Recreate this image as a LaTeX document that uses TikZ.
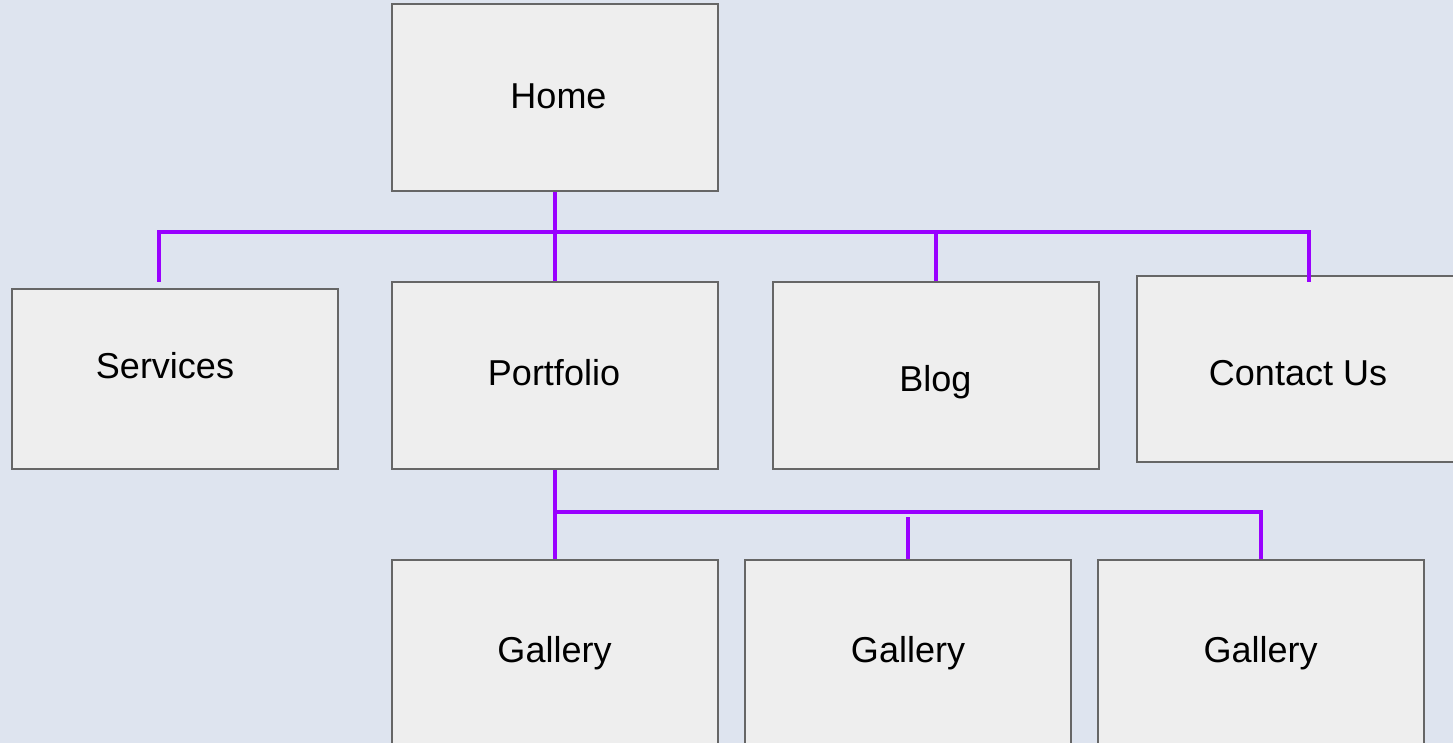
\documentclass[tikz,border=0pt]{standalone}
\usepackage{fontspec}
\setmainfont{Liberation Sans}
\definecolor{bg}{RGB}{222,228,239}
\definecolor{boxfill}{RGB}{238,238,238}
\definecolor{boxline}{RGB}{102,102,102}
\definecolor{purp}{RGB}{153,0,255}
\begin{document}
\begin{tikzpicture}[x=1pt,y=-1pt,
  pagebox/.style={draw=boxline, fill=boxfill, line width=2pt, inner sep=0pt,
    minimum width=326pt, minimum height=187pt},
  txt/.style={inner sep=0pt, anchor=base, font=\fontsize{36}{43}\selectfont},
  link/.style={draw=purp, line width=4pt, line join=miter}]
\useasboundingbox (0,0) rectangle (1453,743);
\clip (0,0) rectangle (1453,743);
\fill[bg] (0,0) rectangle (1453,743);
% boxes
\node[pagebox] (home) at (555,97.5) {};
\node[pagebox, minimum height=180pt] (services) at (174.5,379) {};
\node[pagebox] (portfolio) at (555,375.5) {};
\node[pagebox] (blog) at (935.5,375.5) {};
\node[pagebox, minimum height=186pt] (contact) at (1299.5,369) {};
\node[pagebox] (gal1) at (555,653.5) {};
\node[pagebox] (gal2) at (908,653.5) {};
\node[pagebox] (gal3) at (1261,653.5) {};
% texts
\node[txt] (homeT) at (558.5,108.3) {Home};
\node[txt] (servicesT) at (165,378.3) {Services};
\node[txt] (portfolioT) at (554,385.7) {Portfolio};
\node[txt] (blogT) at (935.3,391) {Blog};
\node[txt] (contactT) at (1298,385) {Contact Us};
\node[txt] (gal1T) at (554.5,662.7) {Gallery};
\node[txt] (gal2T) at (908,662.7) {Gallery};
\node[txt] (gal3T) at (1260.5,662.7) {Gallery};
% connector coordinates
\coordinate (busL) at (159,232);
\coordinate (busR) at (1309,232);
\coordinate (servEnd) at (159,282);
\coordinate (contEnd) at (1309,282);
\coordinate (bus2) at (555,512);
\coordinate (g2top) at (908,517);
% connectors
\draw[link] (home.south) -- (portfolio.north);
\draw[link] (servEnd) -- (busL) -- (busR) -- (contEnd);
\draw[link] (blog.north) -- (blog.north |- busL);
\draw[link] (portfolio.south) -- (gal1.north);
\draw[link] (bus2) -- (gal3.north |- bus2) -- (gal3.north);
\draw[link] (gal2.north |- g2top) -- (gal2.north);
\end{tikzpicture}
\end{document}
